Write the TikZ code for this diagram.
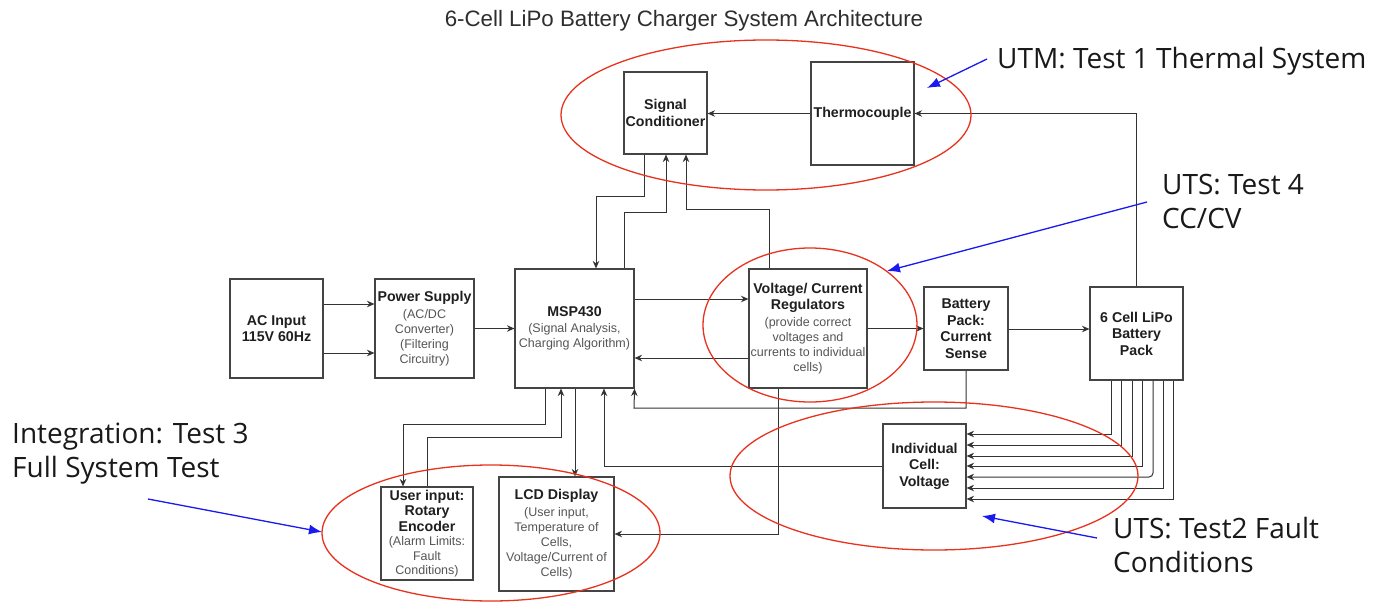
\documentclass[tikz,border=0pt]{standalone}
\usepackage{fontspec}
\setmainfont{Liberation Sans}
\newfontfamily\osans{Open Sans}
\usetikzlibrary{arrows.meta,shapes.geometric}
\definecolor{boxgray}{HTML}{444444}
\definecolor{subgray}{HTML}{555555}
\definecolor{ovalred}{HTML}{E8321E}
\definecolor{noteblue}{HTML}{1A1AF0}
\definecolor{titlegray}{HTML}{2E2E2E}
\newcommand{\subt}[1]{{\mdseries\color{subgray}\fontsize{12.5}{15}\selectfont #1}}
\begin{document}
\begin{tikzpicture}[x=1pt,y=-1pt,
  box/.style={draw=boxgray,line width=1.1pt,fill=white,inner sep=0pt,align=center,
    font=\bfseries\fontsize{14.2}{16.5}\selectfont,text=black!88},
  conn/.style={draw=black!80,line width=1pt,-{Stealth[length=7.5pt,width=6.5pt]}},
  oval/.style={draw=ovalred,line width=1.3pt},
  bluearrow/.style={draw=noteblue,line width=1.3pt,-{Latex[length=13pt,width=10pt]}},
  note/.style={font=\osans\fontsize{28}{34}\selectfont,inner sep=0pt,text=black!90,align=left,anchor=base west}
]
\useasboundingbox[fill=white] (0,0) rectangle (1390,602);

% title
\node[font=\fontsize{22.3}{25}\selectfont,text=titlegray,anchor=base,inner sep=0pt] (title) at (684,27) {6-Cell LiPo Battery Charger System Architecture};

% boxes
\node[box,minimum width=93pt,minimum height=99pt] (ac) at (276.5,328.5) {AC Input\\115V 60Hz};
\node[box,minimum width=99pt,minimum height=99pt] (ps) at (424.5,328.5) {Power Supply\\\subt{(AC/DC}\\[-1.5pt]\subt{Converter)}\\[-1.5pt]\subt{(Filtering}\\[-1.5pt]\subt{Circuitry)}};
\node[box,minimum width=119pt,minimum height=119pt] (msp) at (574.5,328.5) {MSP430\\\subt{(Signal Analysis,}\\[-1.5pt]\subt{Charging Algorithm)}};
\node[box,minimum width=83pt,minimum height=82pt] (sc) at (665.5,113) {Signal\\Conditioner};
\node[box,minimum width=103pt,minimum height=103pt] (tc) at (862.5,113.5) {Thermocouple};
\node[box,minimum width=118pt,minimum height=119pt] (vc) at (808,328.5) {Voltage/ Current\\Regulators\\\subt{(provide correct}\\[-1.5pt]\subt{voltages and}\\[-1.5pt]\subt{currents to individual}\\[-1.5pt]\subt{cells)}};
\node[box,minimum width=84pt,minimum height=83pt] (bp) at (966,328.5) {Battery\\Pack:\\Current\\Sense};
\node[box,minimum width=93pt,minimum height=93pt] (lipo) at (1136.5,333.5) {6 Cell LiPo\\Battery\\Pack};
\node[box,minimum width=83pt,minimum height=84pt] (icv) at (924.5,466) {Individual\\Cell:\\Voltage};
\node[box,minimum width=92pt,minimum height=93pt] (ui) at (427,533.5) {User input:\\[-1pt]Rotary\\[-1pt]Encoder\\[-2pt]\subt{(Alarm Limits:}\\[-2pt]\subt{Fault}\\[-2pt]\subt{Conditions)}};
\node[box,minimum width=115pt,minimum height=114pt] (lcd) at (556.5,534) {LCD Display\\\subt{(User input,}\\[-1.5pt]\subt{Temperature of}\\[-1.5pt]\subt{Cells,}\\[-1.5pt]\subt{Voltage/Current of}\\[-1.5pt]\subt{Cells)}};

% connectors
\draw[conn] (ac.east |- 0,304) -- (ps.west |- 0,304);
\draw[conn] (ac.east |- 0,353) -- (ps.west |- 0,353);
\draw[conn] (ps.east) -- (msp.west);
\draw[conn] (msp.east |- 0,299) -- (vc.west |- 0,299);
\draw[conn] (vc.west |- 0,358) -- (msp.east |- 0,358);
\draw[conn] (vc.east) -- (bp.west);
\draw[conn] (bp.east |- 0,329) -- (lipo.west |- 0,329);
\draw[conn] (lipo.north) |- (tc.east);
\draw[conn] (tc.west) -- (tc.west -| sc.east);
\draw[conn] (sc.south -| 644,0) |- (596,196) -- (msp.north -| 596,0);
\draw[conn] (msp.north -| 624,0) |- (666,212) -- (sc.south -| 666,0);
\draw[conn] (vc.north -| 769,0) |- (686,209) -- (sc.south -| 686,0);
\draw[conn] (msp.south -| 545,0) |- (403,424) -- (ui.north -| 403,0);
\draw[conn] (ui.north -| 427,0) |- (561,437) -- (msp.south -| 561,0);
\draw[conn] (msp.south -| 575,0) -- (lcd.north -| 575,0);
\draw[conn] (icv.west) -| (msp.south -| 604,0);
\draw[conn] (bp.south) |- (634,408) -- (msp.south east);
\draw[conn] (vc.south -| 778,0) |- (lcd.east);
\foreach \xx/\yy in {1111/434,1121/445,1132/456,1142/466,1163/488,1173/499}
  \draw[conn] (lipo.south -| \xx,0) |- (icv.east |- 0,\yy);
\draw[conn,rounded corners=4pt] (lipo.south -| 1153,0) |- (icv.east |- 0,477);

% red ovals
\draw[oval] (766,115) ellipse [x radius=205pt, y radius=75pt];
\draw[oval] (810,325) ellipse [x radius=107pt, y radius=77pt];
\draw[oval] (934,476) ellipse [x radius=204pt, y radius=74pt];
\draw[oval] (491,533) ellipse [x radius=169pt, y radius=68pt];

% notes (anchor at baseline of last line)
\node[note] (n1) at (997,69) {UTM: Test 1 Thermal System};
\node[note] (n2) at (1162,228) {UTS: Test 4\\CC/CV};
\node[note] (n3) at (12,477) {Integration: Test 3\\Full System Test};
\node[note] (n4) at (1113,572) {UTS: Test2 Fault\\Conditions};

\coordinate (b1s) at (987,59);   \coordinate (b1e) at (927,88);
\coordinate (b2s) at (1147,202); \coordinate (b2e) at (887,271);
\coordinate (b3s) at (148,499);  \coordinate (b3e) at (322,532);
\coordinate (b4s) at (1097,538); \coordinate (b4e) at (982,516);
\draw[bluearrow] (b1s) -- (b1e);
\draw[bluearrow] (b2s) -- (b2e);
\draw[bluearrow] (b3s) -- (b3e);
\draw[bluearrow] (b4s) -- (b4e);
\end{tikzpicture}
\end{document}
